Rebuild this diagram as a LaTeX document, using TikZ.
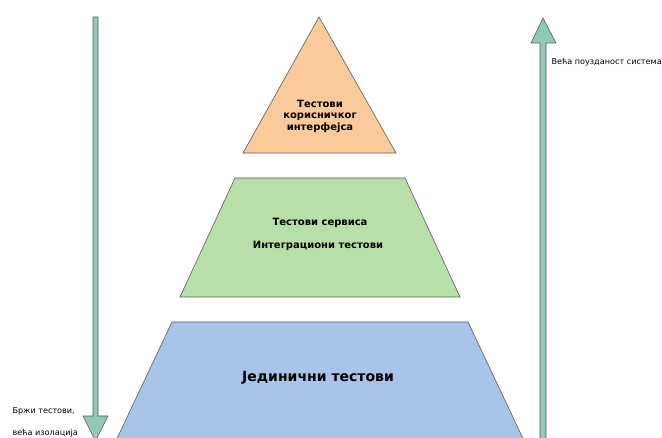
\documentclass[tikz,border=0pt]{standalone}
\usepackage{fontspec}
\setmainfont{DejaVu Sans}
\usetikzlibrary{calc}
\definecolor{peach}{RGB}{250, 202, 154}
\definecolor{leaf}{RGB}{184, 223, 168}
\definecolor{sky}{RGB}{168, 196, 233}
\definecolor{mint}{RGB}{144, 201, 185}
\definecolor{edge}{RGB}{90, 90, 90}

\begin{document}
\begin{tikzpicture}[x=1pt, y=-1pt, thin,
    level/.style={draw=edge, line width=0.6pt},
    marker/.style={fill=mint, draw=edge, line width=0.6pt},
    tierlabel/.style={font=\bfseries\fontsize{10}{11.5}\selectfont, align=center},
    sidelabel/.style={font=\fontsize{8.1}{9}\selectfont, anchor=west}]

  \useasboundingbox (0, 0) rectangle (662, 438);
  \clip (0, 0) rectangle (662, 438);

  % pyramid levels
  \filldraw[level, fill=peach] (319, 17) -- (396, 153) -- (243, 153) -- cycle;
  \filldraw[level, fill=leaf] (235, 178) -- (405, 178) -- (460, 297) -- (180, 297) -- cycle;
  \filldraw[level, fill=sky] (172, 322) -- (468, 322) -- (527, 447) -- (113, 447) -- cycle;

  \node[tierlabel] (ui) at (320, 116) {Тестови\\корисничког\\интерфејса};
  \node[tierlabel] (service) at (320, 223) {Тестови сервиса};
  \node[tierlabel] (integration) at (318, 246) {Интеграциони тестови};
  \node[tierlabel, font=\bfseries\fontsize{14}{16}\selectfont] (unit) at (318, 378) {Јединични тестови};

  % side arrows
  \filldraw[marker] (93, 17) -- (98, 17) -- (98, 416) -- (108, 416) -- (95.5, 441)
    -- (83, 416) -- (93, 416) -- cycle;
  \filldraw[marker] (543, 18) -- (556, 43) -- (546, 43) -- (546, 450) -- (540, 450)
    -- (540, 43) -- (531, 43) -- cycle;

  \node[sidelabel] (faster) at (9, 411) {Бржи тестови,};
  \node[sidelabel] (isolation) at (9, 433) {већа изолација};
  \node[sidelabel] (reliability) at (548, 62) {Већа поузданост система};

\end{tikzpicture}
\end{document}
